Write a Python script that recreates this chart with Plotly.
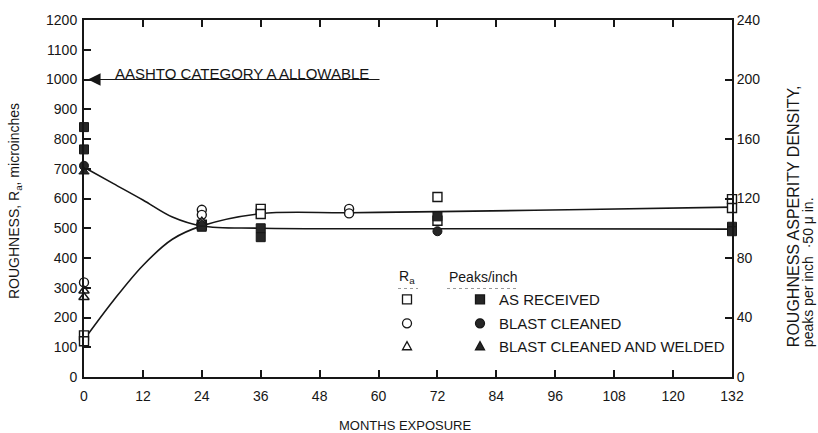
import plotly.graph_objects as go

# ---- measured roughness (Ra, microinches; left axis) ----
ra_sq_months = [0, 0, 24, 36, 36, 72, 72, 132, 132]
ra_sq_vals = [140, 120, 512, 565, 548, 605, 525, 598, 568]

ra_ci_months = [0, 24, 24, 54, 54]
ra_ci_vals = [318, 562, 545, 565, 550]

ra_tr_months = [0, 0, 24]
ra_tr_vals = [290, 268, 522]

# ---- asperity density (peaks/inch; right axis) ----
pk_sq_months = [0, 0, 24, 36, 36, 72, 132, 132]
pk_sq_vals = [168, 153, 101, 100, 94, 108, 101, 98]

pk_ci_months = [0, 72]
pk_ci_vals = [142, 98]

pk_tr_months = [0, 24]
pk_tr_vals = [138, 103]

# ---- smoothed trend curves ----
ra_fit_months = [0, 6, 12, 18, 24, 36, 54, 72, 102, 132]
ra_fit_vals = [125, 257, 375, 463, 508, 549, 552, 556, 563, 571]

pk_fit_months = [0, 6, 12, 18, 24, 36, 72, 132]
pk_fit_vals = [141, 130, 119, 107.5, 101.5, 100, 99.7, 99.4]

x_ticks = list(range(0, 133, 12))
y_ticks = list(range(0, 1201, 100))
y2_ticks = list(range(0, 241, 40))

INK = "#161616"
FONT = "Liberation Sans, Arial, Helvetica, sans-serif"

# plot-area geometry (pixels) used for the paper-space key and titles
W, H = 818, 433
ML, MR, MT, MB = 84, 86, 18, 56
PW, PH = W - ML - MR, H - MT - MB


def px(x):
    return (x - ML) / PW


def py(y):
    return (H - MB - y) / PH


fig = go.Figure()

fig.add_trace(go.Scatter(x=ra_fit_months, y=ra_fit_vals, mode="lines",
                         line=dict(color=INK, width=1.6, shape="spline"),
                         hoverinfo="skip", showlegend=False))
fig.add_trace(go.Scatter(x=pk_fit_months, y=pk_fit_vals, mode="lines", yaxis="y2",
                         line=dict(color=INK, width=1.6, shape="spline"),
                         hoverinfo="skip", showlegend=False))

open_mk = dict(color="white", size=9, line=dict(color=INK, width=1.4))
fill_mk = dict(color="#262626", size=9, line=dict(color=INK, width=1))

marker_sets = [
    (pk_sq_months, pk_sq_vals, "square", fill_mk, "y2"),
    (pk_ci_months, pk_ci_vals, "circle", fill_mk, "y2"),
    (pk_tr_months, pk_tr_vals, "triangle-up", fill_mk, "y2"),
    (ra_sq_months, ra_sq_vals, "square", open_mk, "y"),
    (ra_ci_months, ra_ci_vals, "circle", open_mk, "y"),
    (ra_tr_months, ra_tr_vals, "triangle-up", open_mk, "y"),
]
for xs, ys, sym, mk, ax in marker_sets:
    fig.add_trace(go.Scatter(x=xs, y=ys, mode="markers", yaxis=ax, cliponaxis=False,
                             marker=dict(symbol=sym, **mk), showlegend=False))

axis_common = dict(showline=True, linecolor=INK, linewidth=2, ticks="inside",
                   tickcolor=INK, tickwidth=2, ticklen=7, showgrid=False,
                   zeroline=False, tickfont=dict(family=FONT, size=14, color=INK))

fig.update_layout(
    width=W, height=H,
    margin=dict(l=ML, r=MR, t=MT, b=MB),
    paper_bgcolor="white", plot_bgcolor="white",
    font=dict(family=FONT, color=INK),
    xaxis=dict(range=[0, 132], tickvals=x_ticks, mirror="ticks",
               ticklabelstandoff=5, **axis_common),
    yaxis=dict(range=[0, 1200], tickvals=y_ticks, ticklabelstandoff=2, **axis_common),
    yaxis2=dict(range=[0, 240], tickvals=y2_ticks, overlaying="y", side="right",
                **axis_common),
)

# allowable-limit arrow at 1000 microinches
fig.add_annotation(x=0.8, y=1000, ax=60.5, ay=1000, xref="x", yref="y",
                   axref="x", ayref="y", text="", showarrow=True,
                   arrowhead=2, arrowsize=2.3, arrowwidth=1.1, arrowcolor=INK,
                   standoff=0, startstandoff=0)
fig.add_annotation(x=32.2, y=1000, xref="x", yref="y", text="AASHTO CATEGORY A ALLOWABLE",
                   showarrow=False, yanchor="middle", yshift=6,
                   font=dict(family=FONT, size=15, color=INK))

# axis titles
fig.add_annotation(x=px(15), y=py(200), xref="paper", yref="paper",
                   text="ROUGHNESS, R<sub>a</sub>, microinches", textangle=-90,
                   showarrow=False, xanchor="center", yanchor="middle",
                   font=dict(family=FONT, size=14, color=INK))
fig.add_annotation(x=px(793), y=py(349), xref="paper", yref="paper",
                   text="ROUGHNESS ASPERITY DENSITY,", textangle=-90,
                   showarrow=False, xanchor="center", yanchor="bottom",
                   font=dict(family=FONT, size=16, color=INK))
fig.add_annotation(x=px(808), y=py(349), xref="paper", yref="paper",
                   text="peaks per inch \u00a0\u00b750 \u03bc in.", textangle=-90,
                   showarrow=False, xanchor="center", yanchor="bottom",
                   font=dict(family=FONT, size=14, color=INK))
fig.add_annotation(x=px(405), y=py(426), xref="paper", yref="paper",
                   text="MONTHS EXPOSURE", showarrow=False,
                   xanchor="center", yanchor="middle",
                   font=dict(family=FONT, size=13, color=INK))

# key: headers
fig.add_annotation(x=px(407), y=py(276), xref="paper", yref="paper",
                   text="R<sub>a</sub>", showarrow=False, xanchor="center",
                   yanchor="middle", font=dict(family=FONT, size=14, color=INK))
fig.add_annotation(x=px(447), y=py(276), xref="paper", yref="paper",
                   text="Peaks/inch", showarrow=False, xanchor="left",
                   yanchor="middle", font=dict(family=FONT, size=14, color=INK))
fig.add_shape(type="line", xref="paper", yref="paper", x0=px(398), x1=px(418),
              y0=py(288), y1=py(288), line=dict(color="#999", width=1, dash="dot"))
fig.add_shape(type="line", xref="paper", yref="paper", x0=px(447), x1=px(518),
              y0=py(288), y1=py(288), line=dict(color="#999", width=1, dash="dot"))

key_rows = [299, 323, 346]
key_labels = ["AS RECEIVED", "BLAST CLEANED", "BLAST CLEANED AND WELDED"]
r = 4.5
for i, (yy, lab) in enumerate(zip(key_rows, key_labels)):
    for cx, filled in ((407, False), (480, True)):
        fc = "#262626" if filled else "white"
        ln = dict(color=INK, width=1.3)
        if i == 0:
            fig.add_shape(type="rect", xref="paper", yref="paper",
                          x0=px(cx - r), x1=px(cx + r), y0=py(yy + r), y1=py(yy - r),
                          fillcolor=fc, line=ln)
        elif i == 1:
            fig.add_shape(type="circle", xref="paper", yref="paper",
                          x0=px(cx - r), x1=px(cx + r), y0=py(yy + r), y1=py(yy - r),
                          fillcolor=fc, line=ln)
        else:
            path = "M {} {} L {} {} L {} {} Z".format(
                px(cx - r), py(yy + r * 0.8), px(cx + r), py(yy + r * 0.8),
                px(cx), py(yy - r))
            fig.add_shape(type="path", xref="paper", yref="paper", path=path,
                          fillcolor=fc, line=ln)
    fig.add_annotation(x=px(497), y=py(yy), xref="paper", yref="paper", text=lab,
                       showarrow=False, xanchor="left", yanchor="middle",
                       font=dict(family=FONT, size=15, color=INK))

fig.write_html("out.html")
